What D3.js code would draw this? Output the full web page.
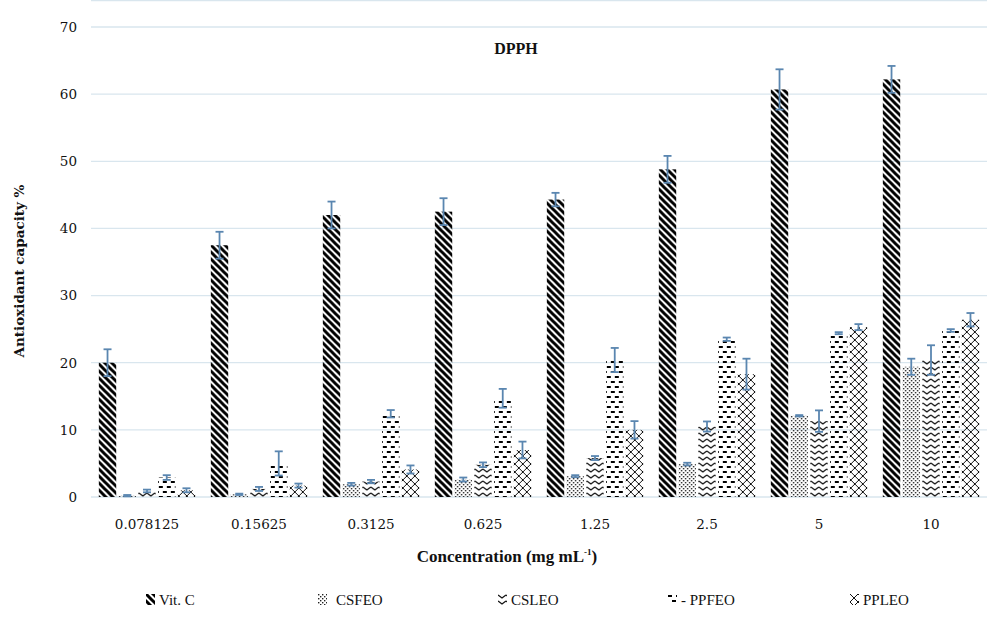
<!DOCTYPE html>
<html>
<head>
<meta charset="utf-8">
<script src="https://cdn.jsdelivr.net/npm/d3@7"></script>
<style>
  body { margin: 0; background: #fff; }
  svg { display: block; }
</style>
</head>
<body>
<svg width="1000" height="627"></svg>
<script>
// concentrations (mg mL-1)
const categories = ["0.078125", "0.15625", "0.3125", "0.625", "1.25", "2.5", "5", "10"];
const seriesNames = ["Vit. C", "CSFEO", "CSLEO", "PPFEO", "PPLEO"];

// antioxidant capacity % per series
const vitC  = [20.0, 37.5, 42.0, 42.5, 44.3, 48.8, 60.7, 62.2];
const csfeo = [0.2, 0.4, 1.9, 2.6, 3.1, 4.9, 12.1, 19.4];
const csleo = [0.9, 1.2, 2.3, 4.8, 5.8, 10.5, 11.3, 20.4];
const ppfeo = [2.9, 5.0, 12.4, 14.7, 20.4, 23.5, 24.4, 24.8];
const ppleo = [1.0, 1.7, 4.1, 7.0, 10.0, 18.3, 25.3, 26.4];

// error bar half-lengths
const vitCErr  = [2.0, 2.0, 2.0, 2.0, 1.0, 2.0, 3.0, 2.0];
const csfeoErr = [0.1, 0.1, 0.2, 0.3, 0.15, 0.2, 0.1, 1.2];
const csleoErr = [0.2, 0.3, 0.25, 0.35, 0.3, 0.75, 1.6, 2.2];
const ppfeoErr = [0.35, 1.8, 0.55, 1.4, 1.8, 0.25, 0.15, 0.2];
const ppleoErr = [0.3, 0.3, 0.6, 1.25, 1.3, 2.3, 0.45, 1.0];

const yTicks = [0, 10, 20, 30, 40, 50, 60, 70];

const values = [vitC, csfeo, csleo, ppfeo, ppleo];
const errors = [vitCErr, csfeoErr, csleoErr, ppfeoErr, ppleoErr];

const svg = d3.select("svg");
const margin = { top: 27, left: 91, right: 13, bottom: 130 };
const width = 1000;
const plotBottom = 497;

const defs = svg.append("defs");

// fill patterns, one per series
function makePattern(id, w, h, draw) {
    const p = defs.append("pattern")
        .attr("id", id)
        .attr("patternUnits", "userSpaceOnUse")
        .attr("width", w)
        .attr("height", h);
    draw(p);
}

makePattern("pat0", 7, 7, p => {
    p.append("path")
        .attr("d", "M-2,-2 L9,9 M-2,5 L2,9 M5,-2 L9,2")
        .attr("stroke", "#000").attr("stroke-width", 3);
});
makePattern("pat1", 4, 4, p => {
    p.append("rect").attr("x", 0).attr("y", 0).attr("width", 1.4).attr("height", 1.4).attr("fill", "#222");
    p.append("rect").attr("x", 2).attr("y", 2).attr("width", 1.4).attr("height", 1.4).attr("fill", "#222");
});
makePattern("pat2", 8, 6, p => {
    p.append("path")
        .attr("d", "M0,1 L4,4 L8,1")
        .attr("fill", "none").attr("stroke", "#111").attr("stroke-width", 1.3);
});
makePattern("pat3", 8, 10, p => {
    p.append("path")
        .attr("d", "M0,2 L4,2 M4,7 L8,7")
        .attr("stroke", "#000").attr("stroke-width", 1.9);
});
makePattern("pat4", 8, 8, p => {
    p.append("path")
        .attr("d", "M0,0 L8,8 M8,0 L0,8")
        .attr("fill", "none").attr("stroke", "#111").attr("stroke-width", 1);
});

const x0 = d3.scaleBand()
    .domain(categories)
    .range([margin.left, width - margin.right])
    .paddingInner(0.14)
    .paddingOuter(0.07);

const x1 = d3.scaleBand()
    .domain(d3.range(seriesNames.length))
    .range([0, x0.bandwidth()])
    .paddingInner(0.12);

const y = d3.scaleLinear()
    .domain([0, 70])
    .range([plotBottom, margin.top]);

// gridlines
svg.append("g")
    .selectAll("line")
    .data(yTicks)
    .join("line")
    .attr("x1", margin.left)
    .attr("x2", width - margin.right)
    .attr("y1", d => y(d))
    .attr("y2", d => y(d))
    .attr("stroke", "#d9e6ee")
    .attr("stroke-width", 1.3);

svg.append("line")
    .attr("x1", margin.left).attr("x2", width - margin.right)
    .attr("y1", 0.5).attr("y2", 0.5)
    .attr("stroke", "#d9e6ee").attr("stroke-width", 1.3);

// y axis labels
const yAxis = d3.axisLeft(y).tickValues(yTicks).tickSize(0).tickPadding(14);
svg.append("g")
    .attr("transform", `translate(${margin.left},0)`)
    .call(yAxis)
    .call(g => g.select(".domain").remove())
    .selectAll("text")
    .attr("font-family", "DejaVu Serif")
    .attr("font-size", 13.5)
    .attr("fill", "#111");

// x axis labels
const xAxis = d3.axisBottom(x0).tickSize(0).tickPadding(22);
svg.append("g")
    .attr("transform", `translate(0,${plotBottom})`)
    .call(xAxis)
    .call(g => g.select(".domain").remove())
    .selectAll("text")
    .attr("font-family", "DejaVu Serif")
    .attr("font-size", 13.5)
    .attr("fill", "#111");

// bars
const groups = svg.append("g")
    .selectAll("g")
    .data(categories)
    .join("g")
    .attr("transform", d => `translate(${x0(d)},0)`);

groups.selectAll("rect")
    .data((d, i) => values.map((s, k) => ({ k: k, v: s[i], e: errors[k][i] })))
    .join("rect")
    .attr("x", d => x1(d.k))
    .attr("width", x1.bandwidth())
    .attr("y", d => y(d.v))
    .attr("height", d => y(0) - y(d.v))
    .attr("fill", d => `url(#pat${d.k})`);

// error bars
const errG = groups.selectAll("g.err")
    .data((d, i) => values.map((s, k) => ({ k: k, v: s[i], e: errors[k][i] })))
    .join("g")
    .attr("class", "err")
    .attr("stroke", "#5a86b0")
    .attr("stroke-width", 1.8);

errG.append("line")
    .attr("x1", d => x1(d.k) + x1.bandwidth() / 2)
    .attr("x2", d => x1(d.k) + x1.bandwidth() / 2)
    .attr("y1", d => y(d.v + d.e))
    .attr("y2", d => y(d.v - d.e));
errG.append("line")
    .attr("x1", d => x1(d.k) + x1.bandwidth() / 2 - 4)
    .attr("x2", d => x1(d.k) + x1.bandwidth() / 2 + 4)
    .attr("y1", d => y(d.v + d.e))
    .attr("y2", d => y(d.v + d.e));
errG.append("line")
    .attr("x1", d => x1(d.k) + x1.bandwidth() / 2 - 4)
    .attr("x2", d => x1(d.k) + x1.bandwidth() / 2 + 4)
    .attr("y1", d => y(d.v - d.e))
    .attr("y2", d => y(d.v - d.e));

// title
svg.append("text")
    .attr("x", 516)
    .attr("y", 54)
    .attr("text-anchor", "middle")
    .attr("font-family", "Liberation Serif")
    .attr("font-weight", "bold")
    .attr("font-size", 16)
    .attr("fill", "#111")
    .text("DPPH");

// axis titles
svg.append("text")
    .attr("transform", "translate(24,271) rotate(-90)")
    .attr("text-anchor", "middle")
    .attr("font-family", "DejaVu Serif")
    .attr("font-weight", "bold")
    .attr("font-size", 13.5)
    .attr("fill", "#111")
    .text("Antioxidant capacity %");

const xTitle = svg.append("text")
    .attr("x", 507)
    .attr("y", 562)
    .attr("text-anchor", "middle")
    .attr("font-family", "Liberation Serif")
    .attr("font-weight", "bold")
    .attr("font-size", 17)
    .attr("fill", "#111");
xTitle.append("tspan").text("Concentration (mg mL");
xTitle.append("tspan").attr("font-size", 9).attr("dy", -7).text("-1");
xTitle.append("tspan").attr("dy", 7).text(")");

// legend
const legendX = [146, 318, 498, 668, 850];
const legend = svg.append("g")
    .selectAll("g")
    .data(seriesNames)
    .join("g")
    .attr("transform", (d, i) => `translate(${legendX[i]},594)`);

legend.append("rect")
    .attr("width", 9)
    .attr("height", 11)
    .attr("fill", (d, i) => `url(#pat${i})`);

legend.append("text")
    .attr("x", (d, i) => i === 1 ? 18 : 13)
    .attr("y", 11)
    .attr("font-family", "Liberation Serif")
    .attr("font-size", 15)
    .attr("fill", "#111")
    .text((d, i) => i === 3 ? "- " + d : d);
</script>
</body>
</html>
